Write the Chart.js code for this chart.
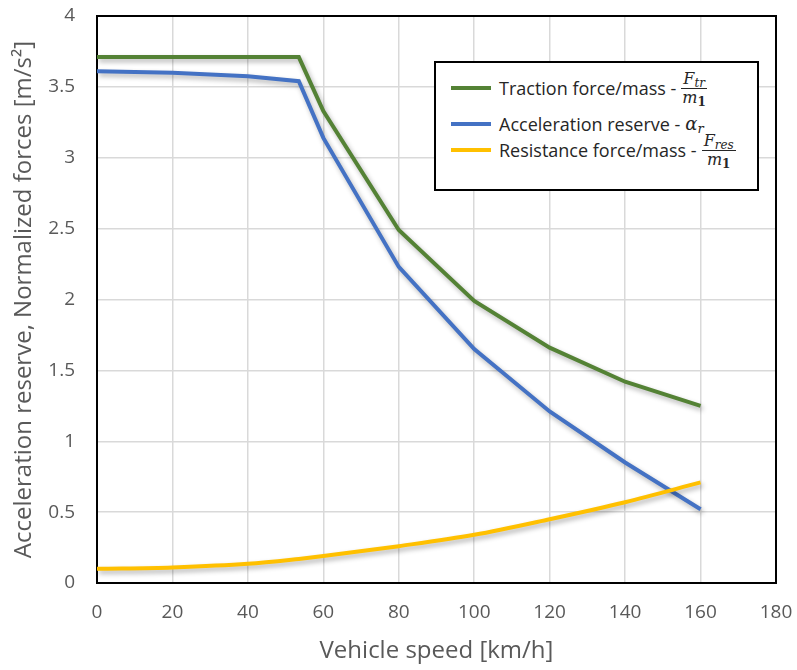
<!DOCTYPE html>
<html>
<head>
<meta charset="utf-8">
<script src="https://cdn.jsdelivr.net/npm/chart.js@4"></script>
<style>
  body { margin: 0; background: #fff; }
  #wrap { position: relative; width: 797px; height: 670px; }
  #legendBox {
    position: absolute; left: 434px; top: 61px; width: 321px; height: 126px;
    border: 2px solid #000; background: #fff; font-family: "Open Sans", sans-serif;
    font-size: 18px; color: #262626;
  }
  .row { position: absolute; left: 0; height: 36px; display: flex; align-items: center; white-space: nowrap; }
  .swatch { display: inline-block; width: 40px; height: 4px; margin-left: 15px; margin-right: 8px; }
  .frac { display: inline-flex; flex-direction: column; align-items: center; font-family: "DejaVu Serif", serif;
    font-style: italic; font-size: 16px; margin-left: 5px; line-height: 17px; }
  .frac .num { border-bottom: 1px solid #262626; padding: 0 2px 1px; }
  .frac sub, .math sub { font-size: 12px; line-height: 0; vertical-align: baseline; position: relative; top: 0.25em; }
  .math { font-family: "DejaVu Serif", serif; font-style: italic; font-size: 18px; margin-left: 5px; line-height: 20px; }
</style>
</head>
<body>
<div id="wrap">
  <canvas id="forceChart" width="797" height="670"></canvas>
  <div id="legendBox">
    <div class="row" style="top:7px"><span class="swatch" style="background:#548235"></span>Traction force/mass -<span class="frac"><span class="num">F<sub>tr</sub></span><span>m<sub style="font-style:normal;font-weight:bold">1</sub></span></span></div>
    <div class="row" style="top:43px"><span class="swatch" style="background:#4472C4"></span>Acceleration reserve -<span class="math">α<sub style="font-size:13px">r</sub></span></div>
    <div class="row" style="top:69px"><span class="swatch" style="background:#FFC000"></span>Resistance force/mass -<span class="frac"><span class="num">F<sub>res</sub></span><span>m<sub style="font-style:normal;font-weight:bold">1</sub></span></span></div>
  </div>
</div>
<script>
// valores
const speed = [0, 20, 40, 53.5, 60, 80, 100, 120, 140, 160];
const traction = [3.71, 3.71, 3.71, 3.71, 3.33, 2.49, 1.99, 1.66, 1.42, 1.25];
const accelReserve = [3.61, 3.60, 3.575, 3.54, 3.14, 2.23, 1.65, 1.21, 0.85, 0.52];
const resistance = [0.10, 0.11, 0.135, 0.17, 0.19, 0.26, 0.34, 0.45, 0.57, 0.71];

const toPoints = (ys) => speed.map((x, i) => ({ x: x, y: ys[i] }));

// sombra das linhas, estilo Excel
const lineShadow = {
    id: 'lineShadow',
    beforeDatasetDraw(chart) {
        const c = chart.ctx;
        c.save();
        c.shadowColor = 'rgba(0,0,0,0.3)';
        c.shadowBlur = 5;
        c.shadowOffsetX = 2;
        c.shadowOffsetY = 3;
    },
    afterDatasetDraw(chart) {
        chart.ctx.restore();
    }
};

// moldura preta da área do gráfico
const plotFrame = {
    id: 'plotFrame',
    beforeDatasetsDraw(chart) {
        const a = chart.chartArea;
        const c = chart.ctx;
        c.save();
        c.strokeStyle = '#000';
        c.lineWidth = 2;
        c.strokeRect(a.left, a.top, a.right - a.left, a.bottom - a.top);
        c.restore();
    }
};

const tickFont = { family: 'Open Sans', size: 19 };

const ctx = document.getElementById('forceChart').getContext('2d');
const forceChart = new Chart(ctx, {
    type: 'line',
    data: {
        datasets: [
            { label: 'Traction force/mass', data: toPoints(traction), borderColor: '#548235', order: 2 },
            { label: 'Acceleration reserve', data: toPoints(accelReserve), borderColor: '#4472C4', order: 1 },
            { label: 'Resistance force/mass', data: toPoints(resistance), borderColor: '#FFC000', order: 0, cubicInterpolationMode: 'monotone' }
        ]
    },
    options: {
        responsive: false,
        animation: false,
        layout: { padding: { left: 0, right: 21, top: 16, bottom: 0 } },
        elements: {
            point: { radius: 0 },
            line: { borderWidth: 4, tension: 0, fill: false }
        },
        plugins: {
            legend: { display: false },
            tooltip: { enabled: false }
        },
        scales: {
            x: {
                type: 'linear',
                min: 0, max: 180,
                ticks: { stepSize: 20, color: '#595959', font: tickFont, padding: 18, maxRotation: 0 },
                grid: { color: '#d9d9d9', lineWidth: 1.5, drawTicks: false },
                border: { display: false },
                title: { display: true, text: 'Vehicle speed [km/h]', color: '#595959', font: { family: 'Open Sans', size: 24 }, padding: { top: 6 } },
                afterFit(scale) {
                    scale.height = 87;
                    scale.paddingLeft = 0;
                    scale.paddingRight = 0;
                }
            },
            y: {
                min: 0, max: 4,
                ticks: {
                    stepSize: 0.5, color: '#595959', font: tickFont, padding: 22,
                    callback: (v) => String(v)
                },
                grid: { color: '#d9d9d9', lineWidth: 1.5, drawTicks: false },
                border: { display: false },
                title: { display: true, text: 'Acceleration reserve, Normalized forces [m/s²]', color: '#595959', font: { family: 'Open Sans', size: 24 }, padding: { top: 10 } },
                afterFit(scale) {
                    scale.width = 97;
                    scale.paddingTop = 0;
                    scale.paddingBottom = 0;
                }
            }
        }
    },
    plugins: [lineShadow, plotFrame]
});
</script>
</body>
</html>
